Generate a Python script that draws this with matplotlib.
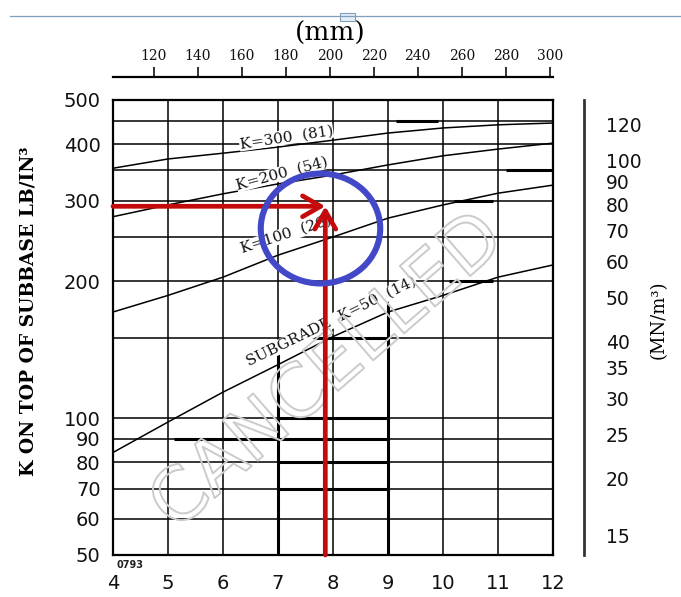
import matplotlib
matplotlib.use('Agg')
import matplotlib.pyplot as plt
import matplotlib.patheffects as pe
from matplotlib.path import Path
from matplotlib.transforms import Affine2D
from matplotlib.lines import Line2D
from matplotlib.patches import Rectangle

# slab / subbase thickness, inches
thickness = [4, 5, 6, 7, 8, 9, 10, 11, 12]

# K on top of subbase (pci)
k_sub_50 = [84, 98, 114, 131, 151, 171, 186, 204, 217]
k_sub_100 = [171, 186, 204, 228, 250, 275, 294, 312, 325]
k_sub_200 = [277, 294, 311, 327, 342, 360, 377, 390, 402]
k_sub_300 = [354, 371, 382, 394, 408, 423, 434, 441, 445]
curves = [k_sub_50, k_sub_100, k_sub_200, k_sub_300]

curve_labels = ['SUBGRADE  K=50  (14)', 'K=100  (26)', 'K=200  (54)', 'K=300  (81)']
label_x = [7.97, 7.15, 7.08, 7.15]
label_k = [163, 253, 345, 414]
label_rot = [26, 18, 15, 8.5]

k_ticks = [50, 60, 70, 80, 90, 100, 200, 300, 400, 500]
k_minor = [150, 250, 350, 450]
mn_ticks = [15, 20, 25, 30, 35, 40, 50, 60, 70, 80, 90, 100, 120]
mm_ticks = [120, 140, 160, 180, 200, 220, 240, 260, 280, 300]

# heavier printed segments: (k, x_from, x_to) and (x, k_from, k_to)
bold_h = [(450, 9.15, 9.9), (350, 11.15, 12), (300, 10.2, 10.9), (200, 10.1, 10.9),
          (150, 7.65, 9), (100, 7, 9), (90, 5.1, 9), (80, 7, 9), (70, 7, 9)]
bold_v = [(7, 50, 140), (9, 50, 178), (12, 50, 500)]

# the reading drawn over the chart
read_x = 7.86
read_k = 292
circle_x = 7.76
circle_k = 262

PCI_PER_MN = 3.684
red = '#c40a0a'
blue = '#4248c8'

fig = plt.figure(figsize=(6.81, 5.97), dpi=100)
ax = fig.add_axes([113 / 681, 1 - 555 / 597, 440 / 681, 455 / 597])
ax.set_yscale('log')
ax.set_xlim(4, 12)
ax.set_ylim(50, 500)
ax.set_axisbelow(True)

ax.set_xticks(thickness, [str(t) for t in thickness])
ax.set_yticks(k_ticks, [str(k) for k in k_ticks])
ax.set_yticks(k_minor, [''] * len(k_minor), minor=True)
ax.grid(which='both', color='black', lw=1.1)
ax.tick_params(which='both', length=0)
ax.tick_params(axis='both', labelsize=14, colors='#111111')
ax.tick_params(axis='y', pad=9)
ax.tick_params(axis='x', pad=14)
for s in ax.spines.values():
    s.set_linewidth(1.6)
    s.set_color('black')

for kx, x0, x1 in bold_h:
    ax.plot([x0, x1], [kx, kx], color='black', lw=2.2, zorder=1.5, solid_capstyle='butt')
for xv, k0, k1 in bold_v:
    ax.plot([xv, xv], [k0, k1], color='black', lw=2.2, zorder=1.5, solid_capstyle='butt')

for vals in curves:
    ax.plot(thickness, vals, color='black', lw=1.1, zorder=2)

for txt, lx, lk, rot in zip(curve_labels, label_x, label_k, label_rot):
    ax.text(lx, lk, txt, rotation=rot, ha='center', va='center', rotation_mode='anchor',
            family='DejaVu Serif', fontsize=11, color='#111111', zorder=3,
            bbox=dict(boxstyle='square,pad=0.02', fc='white', ec='none'))

ax.text(7.91, 126, 'CANCELLED', rotation=41, ha='center', va='center',
        rotation_mode='anchor', family='DejaVu Sans', fontsize=53, color='none',
        zorder=4, path_effects=[pe.Stroke(linewidth=1.4, foreground='#cbcbcb')])

ax.text(4.06, 48.8, '0793', fontsize=7, fontweight='bold', va='top', ha='left',
        family='DejaVu Sans', color='#222222')

arrow = dict(arrowstyle='->,head_length=1.3,head_width=0.75', color=red, lw=3.4,
             shrinkA=0, shrinkB=0)
ax.annotate('', xy=(read_x, read_k), xytext=(4, read_k), arrowprops=arrow, zorder=5)
ax.annotate('', xy=(read_x, read_k), xytext=(read_x, 50), arrowprops=arrow, zorder=5)

ring = Path.unit_circle().transformed(Affine2D().scale(1, 0.92))
ax.plot([circle_x], [circle_k], marker=ring, ms=86, mfc='none', mec=blue, mew=4.4,
        zorder=6, clip_on=False)

# MN/m3 scale on the right
ax2 = ax.twinx()
ax2.set_yscale('log')
ax2.set_ylim(50 / PCI_PER_MN, 500 / PCI_PER_MN)
ax2.set_yticks(mn_ticks, [str(m) for m in mn_ticks])
ax2.set_yticks([], minor=True)
ax2.tick_params(axis='y', which='both', length=0, labelsize=13.5, pad=16, colors='#111111')
for name, s in ax2.spines.items():
    s.set_visible(name == 'right')
ax2.spines['right'].set_position(('outward', 22))
ax2.spines['right'].set_linewidth(2)
ax2.spines['right'].set_color('#333333')

# mm scale on top (spacing as printed on the chart)
sec = ax.secondary_xaxis(1 + 23 / 455, functions=(lambda t: 25.0 * t + 1.5,
                                                   lambda m: (m - 1.5) / 25.0))
sec.set_xticks(mm_ticks)
sec.tick_params(direction='out', length=7, width=1.2, labelsize=10, pad=3,
                labelfontfamily='DejaVu Serif', colors='#111111')
sec.spines['top'].set_linewidth(1.6)

fig.text(330 / 681, 1 - 33 / 597, '(mm)', ha='center', va='center',
         family='DejaVu Serif', fontsize=19)
fig.text(29 / 681, 1 - 311 / 597, 'K ON TOP OF SUBBASE LB/IN³', rotation=90,
         ha='center', va='center', family='DejaVu Serif', fontsize=13.5, fontweight='bold')
fig.text(659 / 681, 1 - 320 / 597, '(MN/m³)', rotation=90, ha='center', va='center',
         family='DejaVu Serif', fontsize=13)

# page ruler line at the top of the screenshot
fig.add_artist(Line2D([10 / 681, 1], [1 - 16 / 597, 1 - 16 / 597], color='#7f9fb8', lw=0.9))
fig.add_artist(Rectangle((340 / 681, 1 - 21 / 597), 15 / 681, 8 / 597, fc='#e4eef8',
                         ec='#7f9fb8', lw=0.8))

fig.savefig('out.png', dpi=100, facecolor='white')
